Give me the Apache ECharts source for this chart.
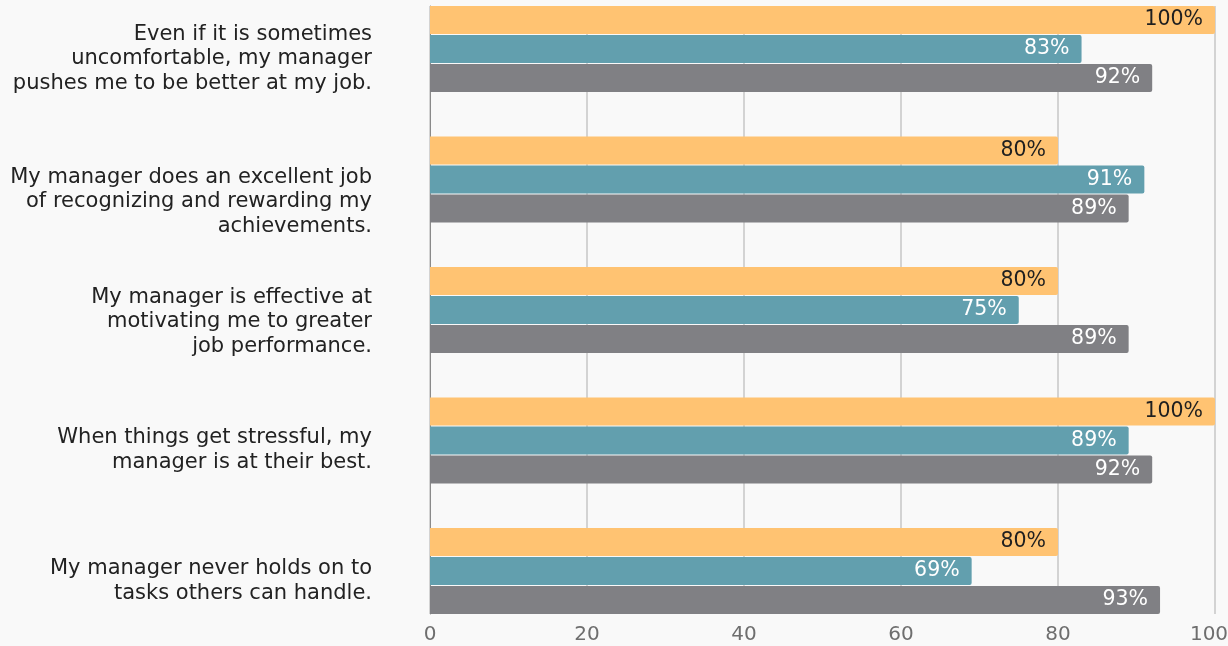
<!DOCTYPE html>
<html>
<head>
<meta charset="utf-8">
<script src="https://cdn.jsdelivr.net/npm/echarts@6/dist/echarts.min.js"></script>
<style>
  html, body { margin: 0; padding: 0; background: #f9f9f9; }
  #chart { width: 1228px; height: 646px; }
</style>
</head>
<body>
<div id="chart"></div>
<script>
// Survey statements (top to bottom)
const categories = [
  'Even if it is sometimes\nuncomfortable, my manager\npushes me to be better at my job.',
  'My manager does an excellent job\nof recognizing and rewarding my\nachievements.',
  'My manager is effective at\nmotivating me to greater\njob performance.',
  'When things get stressful, my\nmanager is at their best.',
  'My manager never holds on to\ntasks others can handle.'
];
// Percent agreeing, one array per group
const seriesA = [100, 80, 80, 100, 80];
const seriesB = [83, 91, 75, 89, 69];
const seriesC = [92, 89, 89, 92, 93];
const xTicks = [0, 20, 40, 60, 80, 100];

// spacer height above each statement label (pushes the block down by half of it)
const labelSpacer = [20, 45, 24, 19, 20];

const FONT = 'DejaVu Sans';
const chart = echarts.init(document.getElementById('chart'));

function barSeries(name, data, color, labelColor) {
  return {
    name: name,
    type: 'bar',
    xAxisIndex: 1,
    yAxisIndex: 1,
    data: data,
    barWidth: 28,
    barGap: '4%',
    itemStyle: { color: color, borderRadius: [0, 2, 2, 0] },
    label: {
      show: true,
      position: 'insideRight',
      distance: 12,
      formatter: '{c}%',
      color: labelColor,
      fontFamily: FONT,
      fontSize: 20.5
    }
  };
}

const rich = { t: { fontFamily: FONT, fontSize: 21, lineHeight: 24.5, color: '#222222', align: 'right' } };
labelSpacer.forEach((h, i) => {
  rich['s' + i] = { fontSize: 1, lineHeight: h, height: h, align: 'right' };
});

const maxTick = xTicks[xTicks.length - 1];

chart.setOption({
  backgroundColor: '#f9f9f9',
  animation: false,
  grid: [
    { left: 430, right: 13, top: 6, bottom: 32, containLabel: false, outerBoundsMode: 'none' },
    { left: 430, right: 13, top: -16.25, bottom: 9.75, containLabel: false, outerBoundsMode: 'none' }
  ],
  xAxis: [
    {
      gridIndex: 0,
      type: 'value',
      min: xTicks[0],
      max: maxTick,
      interval: 20,
      axisLine: { show: false },
      axisTick: { show: false },
      splitLine: { show: true, lineStyle: { color: '#c6c6c6', width: 1.5 } },
      axisLabel: {
        color: '#6e6e6e',
        fontFamily: FONT,
        fontSize: 20,
        margin: 11,
        // keep the last tick label inside the canvas
        formatter: v => (v === maxTick ? '{end|' + v + '}' : String(v)),
        rich: {
          end: { color: '#6e6e6e', fontFamily: FONT, fontSize: 20, padding: [0, 12, 0, 0] }
        }
      }
    },
    {
      gridIndex: 1,
      type: 'value',
      min: 0,
      max: 100,
      show: false
    }
  ],
  yAxis: [
    {
      gridIndex: 0,
      type: 'category',
      data: ['', '', '', '', ''],
      axisLine: { show: true, lineStyle: { color: '#8a8a8a', width: 1 } },
      axisTick: { show: false },
      axisLabel: { show: false },
      splitLine: { show: false }
    },
    {
      gridIndex: 1,
      type: 'category',
      inverse: true,
      data: categories,
      axisLine: { show: false },
      axisTick: { show: false },
      axisLabel: {
        margin: 58,
        align: 'right',
        formatter: function (value, index) {
          const lines = value.split('\n').map(l => '{t|' + l + '}');
          return '{s' + index + '| }\n' + lines.join('\n');
        },
        rich: rich
      }
    }
  ],
  series: [
    barSeries('A', seriesA, '#ffc372', '#1f1f1f'),
    barSeries('B', seriesB, '#629fae', '#ffffff'),
    barSeries('C', seriesC, '#808084', '#ffffff')
  ]
});
</script>
</body>
</html>
